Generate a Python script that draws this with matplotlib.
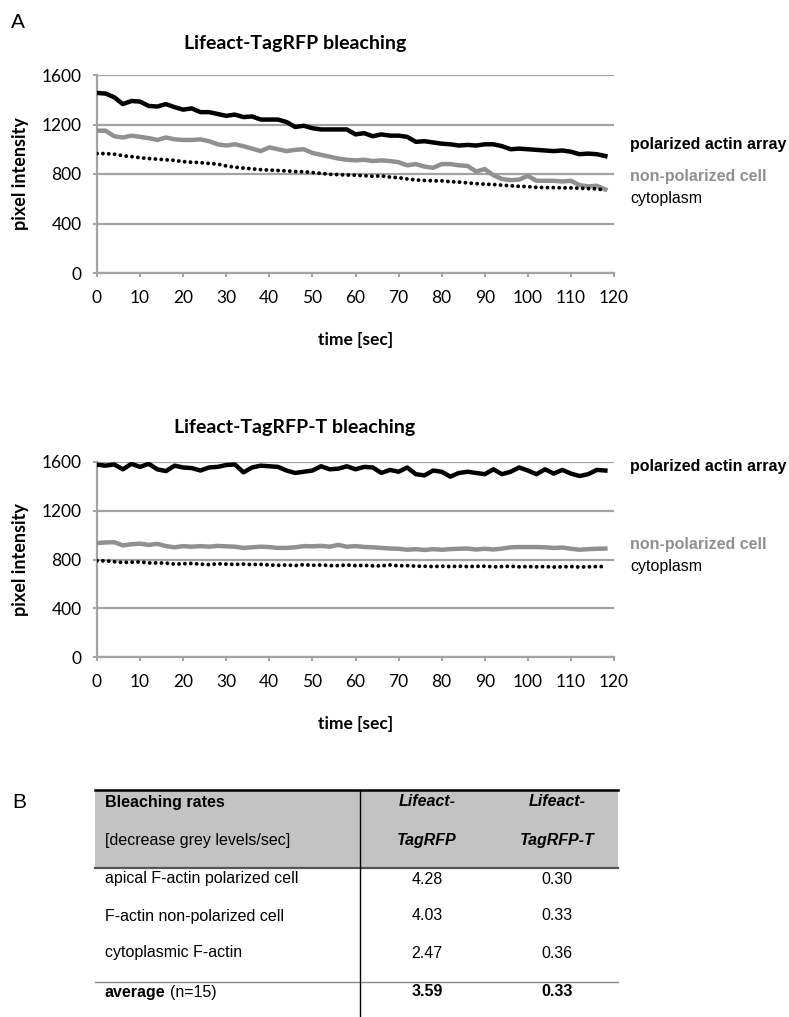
import numpy as np
import matplotlib
matplotlib.use("Agg")
import matplotlib.pyplot as plt
from matplotlib.patches import Rectangle

# ---------------- data ----------------
time_s = list(range(0, 120, 2))

top_polarized = [1455, 1450, 1420, 1365, 1390, 1385, 1350, 1345, 1365, 1340,
                 1320, 1330, 1300, 1300, 1285, 1270, 1280, 1260, 1265, 1240,
                 1240, 1240, 1220, 1180, 1190, 1170, 1160, 1160, 1160, 1160,
                 1120, 1130, 1105, 1120, 1110, 1110, 1100, 1060, 1065, 1055,
                 1045, 1040, 1030, 1035, 1030, 1040, 1040, 1025, 1000, 1005,
                 1000, 995, 990, 985, 990, 980, 960, 965, 960, 945]
top_nonpolarized = [1150, 1150, 1105, 1095, 1110, 1100, 1090, 1075, 1095, 1080,
                    1075, 1075, 1080, 1065, 1040, 1030, 1040, 1025, 1005, 985,
                    1015, 1000, 985, 995, 1000, 970, 955, 940, 925, 915,
                    910, 915, 905, 910, 905, 895, 870, 880, 860, 850,
                    880, 880, 870, 865, 820, 840, 790, 760, 750, 755,
                    785, 745, 745, 745, 740, 745, 710, 700, 705, 675]
top_cytoplasm = [965, 965, 960, 948, 940, 932, 925, 920, 915, 910,
                 900, 895, 892, 885, 880, 865, 855, 848, 842, 835,
                 832, 828, 825, 820, 818, 812, 805, 798, 795, 792,
                 790, 786, 782, 785, 775, 770, 760, 752, 748, 745,
                 745, 738, 735, 728, 722, 718, 715, 710, 705, 700,
                 698, 692, 690, 690, 688, 688, 685, 682, 680, 670]

bot_polarized = [1578, 1570, 1580, 1540, 1585, 1560, 1585, 1540, 1525, 1570,
                 1555, 1550, 1530, 1555, 1560, 1575, 1580, 1515, 1555, 1570,
                 1565, 1560, 1530, 1510, 1520, 1530, 1565, 1540, 1545, 1565,
                 1540, 1560, 1555, 1510, 1535, 1520, 1555, 1500, 1490, 1530,
                 1520, 1480, 1510, 1520, 1510, 1500, 1540, 1500, 1520, 1555,
                 1530, 1500, 1540, 1505, 1535, 1505, 1485, 1500, 1535, 1530]
bot_nonpolarized = [935, 940, 942, 915, 925, 930, 920, 928, 910, 900,
                    910, 905, 910, 905, 912, 908, 905, 895, 900, 905,
                    902, 895, 895, 900, 910, 908, 912, 905, 920, 905,
                    910, 903, 900, 895, 890, 888, 880, 885, 878, 885,
                    880, 885, 888, 890, 882, 888, 882, 890, 900, 902,
                    902, 902, 900, 895, 898, 888, 880, 885, 888, 890]
bot_cytoplasm = [790, 788, 782, 775, 778, 780, 772, 772, 770, 762,
                 765, 768, 762, 758, 765, 762, 760, 762, 758, 760,
                 755, 752, 755, 750, 758, 752, 755, 750, 750, 755,
                 750, 752, 748, 748, 755, 748, 750, 745, 745, 742,
                 745, 742, 745, 742, 744, 745, 740, 742, 745, 740,
                 742, 740, 742, 738, 740, 742, 738, 740, 742, 742]

x_ticks = list(range(0, 121, 10))
y_ticks = [0, 400, 800, 1200, 1600]

panel_titles = ["Lifeact-TagRFP bleaching", "Lifeact-TagRFP-T bleaching"]
series_labels = ["polarized actin array", "non-polarized cell", "cytoplasm"]

table_header_left = ["Bleaching rates", "[decrease grey levels/sec]"]
table_col_heads = [["Lifeact-", "TagRFP"], ["Lifeact-", "TagRFP-T"]]
table_rows = ["apical F-actin polarized cell", "F-actin non-polarized cell",
              "cytoplasmic F-actin"]
rate_tagrfp = ["4.28", "4.03", "2.47"]
rate_tagrfp_t = ["0.30", "0.33", "0.36"]
avg_label = "average"
avg_note = "(n=15)"
avg_values = ["3.59", "0.33"]

# ---------------- figure ----------------
W, H = 789, 1017
fig = plt.figure(figsize=(W / 100, H / 100), dpi=100)

CHART_FONT = ["Lato", "DejaVu Sans"]
ARIAL = ["Liberation Sans", "DejaVu Sans"]
GRID = "#a3a3a3"
GRAY_LINE = "#909090"


def px_axes(left, top, right, bottom):
    return fig.add_axes([left / W, 1 - bottom / H, (right - left) / W, (bottom - top) / H])


def style_chart(ax):
    ax.set_xlim(0, 120)
    ax.set_ylim(0, 1600)
    ax.set_xticks(x_ticks)
    ax.set_yticks(y_ticks)
    ax.set_xticklabels([str(v) for v in x_ticks], fontsize=12.5, family=CHART_FONT)
    ax.set_yticklabels([str(v) for v in y_ticks], fontsize=12.5, family=CHART_FONT)
    for s in ["top", "right"]:
        ax.spines[s].set_visible(False)
    for s in ["left", "bottom"]:
        ax.spines[s].set_color(GRID)
        ax.spines[s].set_linewidth(1.6)
    ax.tick_params(axis="both", colors=GRID, labelcolor="black", width=1.4,
                   length=3.2, direction="out")
    ax.tick_params(axis="x", pad=9)
    ax.tick_params(axis="y", pad=8)
    ax.yaxis.grid(True, color=GRID, linewidth=1.6)
    ax.set_axisbelow(True)
    ax.set_xlabel("time [sec]", fontsize=12.5, fontweight="bold", family=CHART_FONT, labelpad=19)
    ax.set_ylabel("pixel intensity", fontsize=13, fontweight="bold", family=CHART_FONT, labelpad=9)


def draw_series(ax, pol, nonpol, cyto):
    ax.plot(time_s, pol, color="black", lw=3.2, solid_joinstyle="round", zorder=3)
    ax.plot(time_s, nonpol, color=GRAY_LINE, lw=3.2, solid_joinstyle="round", zorder=3)
    ax.plot(time_s, cyto, color="black", lw=2.8, linestyle=(0, (0.01, 1.5)),
            dash_capstyle="round", zorder=3)


ax1 = px_axes(97, 75, 614, 273)
style_chart(ax1)
draw_series(ax1, top_polarized, top_nonpolarized, top_cytoplasm)

ax2 = px_axes(97, 462, 614, 657)
style_chart(ax2)
draw_series(ax2, bot_polarized, bot_nonpolarized, bot_cytoplasm)

# overlay axes in pixel coordinates for annotations / table
ov = fig.add_axes([0, 0, 1, 1], zorder=-1)
ov.set_xlim(0, W)
ov.set_ylim(H, 0)
ov.axis("off")

ov.text(11, 22, "A", fontsize=15, family=ARIAL, va="center", ha="left")
ov.text(12, 803, "B", fontsize=15, family=ARIAL, va="center", ha="left")

ov.text(295, 43, panel_titles[0], fontsize=14, fontweight="bold", family=CHART_FONT,
        ha="center", va="center")
ov.text(295, 428, panel_titles[1], fontsize=14, fontweight="bold", family=CHART_FONT,
        ha="center", va="center")

lab_kw = dict(fontsize=11.5, family=ARIAL, ha="left", va="center")
ov.text(630, 144, series_labels[0], fontweight="bold", color="black", **lab_kw)
ov.text(630, 177, series_labels[1], fontweight="bold", color=GRAY_LINE, **lab_kw)
ov.text(630, 199, series_labels[2], color="black", **lab_kw)
ov.text(612, 250, "n = 5", fontsize=13, family=CHART_FONT, ha="right", va="center")

ov.text(630, 467, series_labels[0], fontweight="bold", color="black", **lab_kw)
ov.text(630, 545, series_labels[1], fontweight="bold", color=GRAY_LINE, **lab_kw)
ov.text(630, 567, series_labels[2], color="black", **lab_kw)
ov.text(612, 637, "n = 5", fontsize=13, family=CHART_FONT, ha="right", va="center")

# ---------------- table ----------------
tx0, tx1, tvx = 95, 618, 360
ty_top, ty_head, ty_avg, ty_bot = 790, 868, 982, 1016
ov.add_patch(Rectangle((tx0, ty_top), tx1 - tx0, ty_head - ty_top,
                       facecolor="#c3c3c3", edgecolor="none"))
ov.plot([tx0, tx1], [ty_top, ty_top], color="black", lw=1.8)
ov.plot([tx0, tx1], [ty_head, ty_head], color="#555555", lw=1.6)
ov.plot([tx0, tx1], [ty_avg, ty_avg], color="#8a8a8a", lw=1.0)
ov.plot([tvx, tvx], [ty_top, ty_bot], color="black", lw=1.0)

tfs = 11.5
col_x = [427, 557]
ov.text(105, 802, table_header_left[0], fontsize=tfs, fontweight="bold", family=ARIAL, va="center")
ov.text(105, 840, table_header_left[1], fontsize=tfs, family=ARIAL, va="center")
for cx, heads in zip(col_x, table_col_heads):
    ov.text(cx, 802, heads[0], fontsize=tfs, fontweight="bold", style="italic",
            family=ARIAL, ha="center", va="center")
    ov.text(cx, 840, heads[1], fontsize=tfs, fontweight="bold", style="italic",
            family=ARIAL, ha="center", va="center")

row_y = [879, 916, 953]
for y, name, v1, v2 in zip(row_y, table_rows, rate_tagrfp, rate_tagrfp_t):
    ov.text(105, y, name, fontsize=tfs, family=ARIAL, va="center")
    ov.text(col_x[0], y, v1, fontsize=tfs, family=ARIAL, ha="center", va="center")
    ov.text(col_x[1], y, v2, fontsize=tfs, family=ARIAL, ha="center", va="center")

t_avg = ov.text(105, 992, avg_label, fontsize=tfs, fontweight="bold", family=ARIAL, va="center")
fig.canvas.draw()
bb = t_avg.get_window_extent()
inv = ov.transData.inverted()
x_end = inv.transform((bb.x1, bb.y0))[0]
ov.text(x_end + 4, 992, avg_note, fontsize=tfs, family=ARIAL, va="center")
ov.text(col_x[0], 992, avg_values[0], fontsize=tfs, fontweight="bold", family=ARIAL,
        ha="center", va="center")
ov.text(col_x[1], 992, avg_values[1], fontsize=tfs, fontweight="bold", family=ARIAL,
        ha="center", va="center")

fig.savefig("out.png", dpi=100)
